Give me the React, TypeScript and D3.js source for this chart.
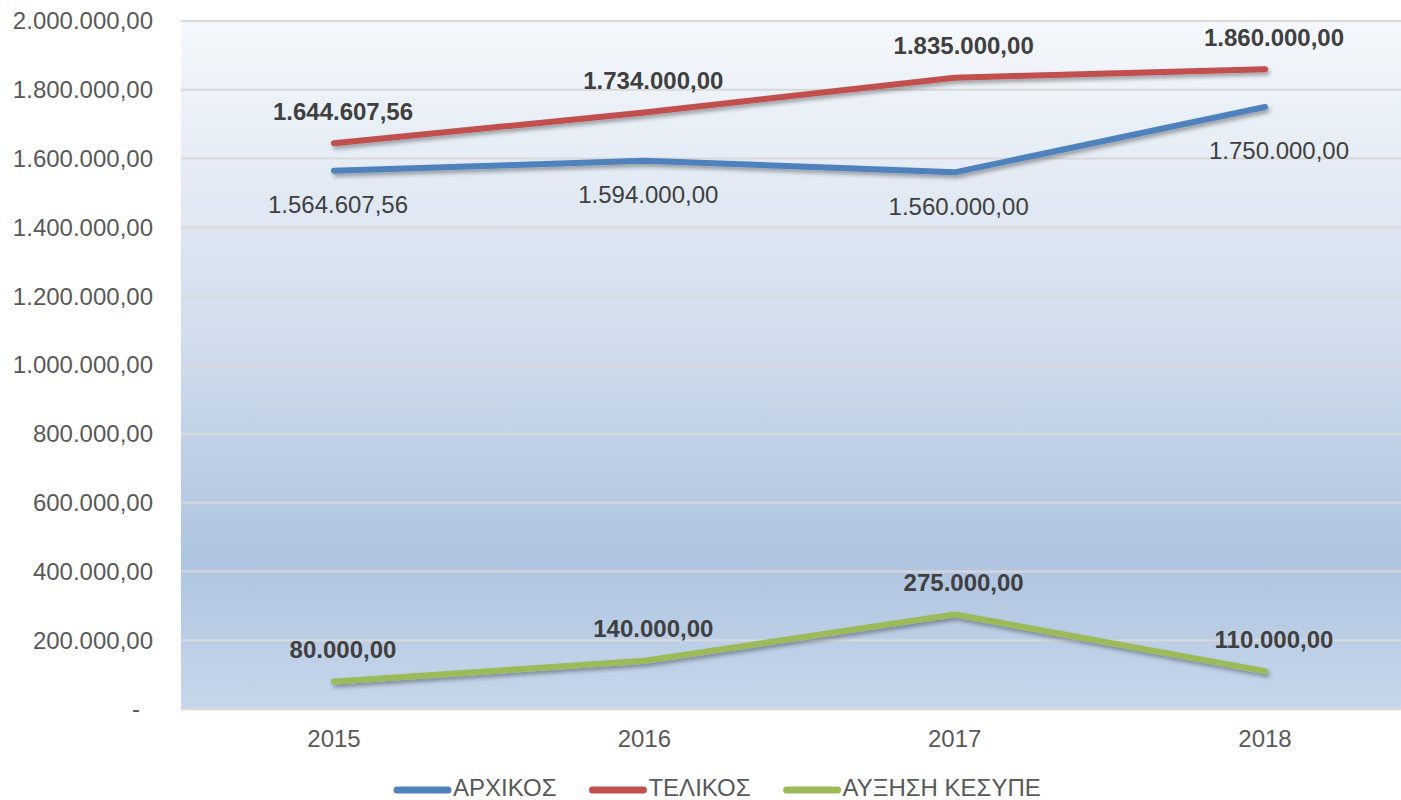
import React from "react";
import * as d3 from "d3";

const years = ["2015", "2016", "2017", "2018"];
const seriesNames = ["ΑΡΧΙΚΟΣ", "ΤΕΛΙΚΟΣ", "ΑΥΞΗΣΗ ΚΕΣΥΠΕ"];
const archikos = [1564607.56, 1594000, 1560000, 1750000];
const telikos = [1644607.56, 1734000, 1835000, 1860000];
const afxisi = [80000, 140000, 275000, 110000];
const yTicks = [0, 200000, 400000, 600000, 800000, 1000000, 1200000, 1400000, 1600000, 1800000, 2000000];

const W = 1401;
const H = 800;
const FONT = "'Liberation Sans', Arial, sans-serif";

const fmt = (v: number) => {
  if (v === 0) return "-";
  const s = v.toFixed(2);
  const [int, dec] = s.split(".");
  const withDots = int.replace(/\B(?=(\d{3})+(?!\d))/g, ".");
  return withDots + "," + dec;
};

const measure = (() => {
  let ctx: CanvasRenderingContext2D | null = null;
  return (t: string, font: string) => {
    if (!ctx) ctx = document.createElement("canvas").getContext("2d");
    if (!ctx) return t.length * 13;
    ctx.font = font;
    return ctx.measureText(t).width;
  };
})();

export default function App() {
  const plotLeft = 181;
  const plotRight = 1401;
  const plotTop = 21;
  const plotBottom = 709;

  const x = d3.scalePoint<string>().domain(years).range([334, 1265]);
  const y = d3.scaleLinear().domain([0, 2000000]).range([plotBottom, plotTop]);

  const series = [
    { name: seriesNames[0], values: archikos, color: "#4F81BD", bold: false, below: true },
    { name: seriesNames[1], values: telikos, color: "#C0504D", bold: true, below: false },
    { name: seriesNames[2], values: afxisi, color: "#9BBB59", bold: true, below: false },
  ];

  const line = d3
    .line<number>()
    .x((_, i) => x(years[i]) as number)
    .y((d) => y(d));

  // legend layout
  const legendFont = `24px ${FONT}`;
  const legendItems: { name: string; color: string; x: number; tx: number }[] = [];
  let lx = 394;
  series.forEach((s) => {
    const tw = measure(s.name, legendFont);
    legendItems.push({ name: s.name, color: s.color, x: lx, tx: lx + 59 });
    lx += 59 + tw + 33;
  });

  return (
    <svg
      width={W}
      height={H}
      style={{ position: "absolute", left: 0, top: 0, background: "#fff" }}
      fontFamily={FONT}
    >
      <defs>
        <linearGradient id="bg" x1="0" y1="0" x2="0" y2="1">
          <stop offset="0" stopColor="#F5F8FC" />
          <stop offset="0.45" stopColor="#D2DEED" />
          <stop offset="0.78" stopColor="#AEC4E0" />
          <stop offset="1" stopColor="#C7D7EB" />
        </linearGradient>
        <filter id="shadow" x="-10%" y="-50%" width="120%" height="200%">
          <feDropShadow dx="2" dy="3" stdDeviation="2" floodColor="#000" floodOpacity="0.35" />
        </filter>
      </defs>

      <rect x={plotLeft} y={plotTop} width={plotRight - plotLeft} height={plotBottom - plotTop} fill="url(#bg)" />

      {yTicks.map((t) => (
        <g key={t}>
          <line
            x1={plotLeft}
            x2={plotRight}
            y1={y(t)}
            y2={y(t)}
            stroke="#D9D9D9"
            strokeWidth={t === 0 ? 2.5 : 2}
          />
          <text
            x={t === 0 ? 140 : 153}
            y={y(t)}
            dy="0.35em"
            textAnchor="end"
            fontSize={24}
            fill="#595959"
          >
            {fmt(t)}
          </text>
        </g>
      ))}

      {years.map((yr) => (
        <text key={yr} x={x(yr)} y={747} textAnchor="middle" fontSize={24} fill="#595959">
          {yr}
        </text>
      ))}

      {series.map((s) => (
        <path
          key={s.name}
          d={line(s.values) || ""}
          fill="none"
          stroke={s.color}
          strokeWidth={6}
          strokeLinecap="round"
          strokeLinejoin="round"
          filter="url(#shadow)"
        />
      ))}

      {series.map((s, si) =>
        s.values.map((v, i) => {
          let dx = s.below ? 4 : 9;
          let dy = s.below ? 34 : -32;
          if (si === 0 && i === 3) {
            dx = 14;
            dy = 44;
          }
          return (
            <text
              key={s.name + i}
              x={(x(years[i]) as number) + dx}
              y={y(v) + dy}
              dy="0.35em"
              textAnchor="middle"
              fontSize={24}
              fontWeight={s.bold ? "bold" : "normal"}
              fill="#404040"
            >
              {fmt(v)}
            </text>
          );
        })
      )}

      {legendItems.map((it) => (
        <g key={it.name}>
          <line
            x1={it.x + 3}
            x2={it.x + 54}
            y1={790}
            y2={790}
            stroke={it.color}
            strokeWidth={7}
            strokeLinecap="round"
          />
          <text x={it.tx} y={796} fontSize={24} fill="#595959">
            {it.name}
          </text>
        </g>
      ))}
    </svg>
  );
}
